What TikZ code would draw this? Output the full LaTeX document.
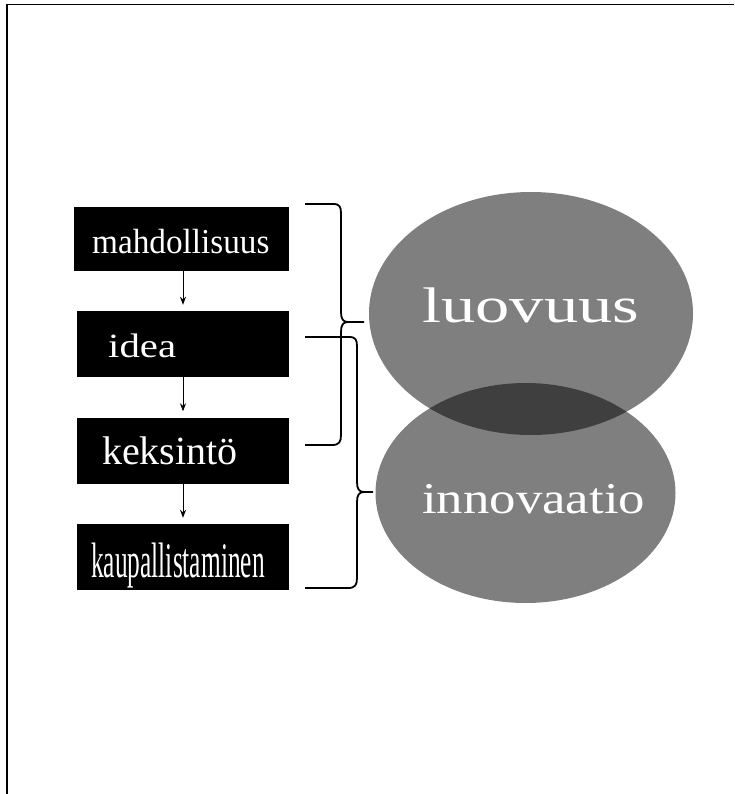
\documentclass[tikz,border=0pt]{standalone}
\usepackage{fontspec}
\setmainfont{Liberation Serif}
\usetikzlibrary{shapes.geometric,arrows.meta}
\newcommand{\sztxt}[3]{\scalebox{#2}[1]{\fontsize{#1pt}{#1pt}\selectfont #3}}
\tikzset{
  blk/.style={fill=black,draw=none,inner sep=0pt,minimum width=212pt,minimum height=66pt},
  wtxt/.style={text=white,inner sep=0pt,anchor=base west},
  blob/.style={ellipse,fill=black,fill opacity=0.5,draw=none,inner sep=0pt},
  flow/.style={line width=0.9pt,-{Stealth[length=8pt,width=6pt]},shorten >=6pt},
  brace/.style={line width=1.8pt,line join=round},
  frame/.style={line width=1.6pt}
}
\begin{document}
\begin{tikzpicture}[x=1pt,y=-1pt]
\useasboundingbox (0,0) rectangle (734,794);
\fill[white] (0,0) rectangle (734,794);
\draw[frame] (7,794) -- (7,4.5) -- (734,4.5);

% boxes
\node[blk,minimum width=215pt,minimum height=64pt] (b1) at (181.5,239) {};
\node[blk] (b2) at (183,344) {};
\node[blk] (b3) at (183,450.5) {};
\node[blk] (b4) at (183,557) {};

\node[wtxt] (t1) at (92,253) {\sztxt{35}{0.95}{mahdollisuus}};
\node[wtxt] (t2) at (108,357) {\sztxt{34}{1.2}{idea}};
\node[wtxt] (t3) at (102,464) {\sztxt{40}{1.0}{keksintö}};
\node[wtxt] (t4) at (91,577) {\sztxt{49.8}{0.51}{kaupallistaminen}};

\draw[flow] (b2.north |- b1.south) -- (b2.north);
\draw[flow] (b2.south) -- (b3.north);
\draw[flow] (b3.south) -- (b4.north);

% ellipses
\node[blob,minimum width=324pt,minimum height=243pt] (e1) at (531,313.5) {};
\node[blob,minimum width=300pt,minimum height=220pt] (e2) at (525.5,493) {};
\node[wtxt] (l1) at (422,322) {\sztxt{50}{1.37}{luovuus}};
\node[wtxt] (l2) at (422,513) {\sztxt{44}{1.2}{innovaatio}};

% braces
\coordinate (p1) at (305,204);
\coordinate (q1) at (305,445);
\coordinate (r1) at (364,322);
\draw[brace] (p1) -- (333,204) .. controls (340,204) and (341,207) .. (341,214)
  -- (341,312) .. controls (341,319) and (343,322) .. (348,322) -- (r1);
\draw[brace] (348,322) .. controls (343,322) and (341,325) .. (341,332)
  -- (341,435) .. controls (341,442) and (339,445) .. (332,445) -- (q1);

\coordinate (p2) at (305,337);
\coordinate (q2) at (305,588);
\coordinate (r2) at (373,492);
\draw[brace] (p2) -- (349,337) .. controls (356,337) and (357,340) .. (357,347)
  -- (357,482) .. controls (357,489) and (359,492) .. (364,492) -- (r2);
\draw[brace] (364,492) .. controls (359,492) and (357,495) .. (357,502)
  -- (357,578) .. controls (357,585) and (355,588) .. (348,588) -- (q2);
\end{tikzpicture}
\end{document}
